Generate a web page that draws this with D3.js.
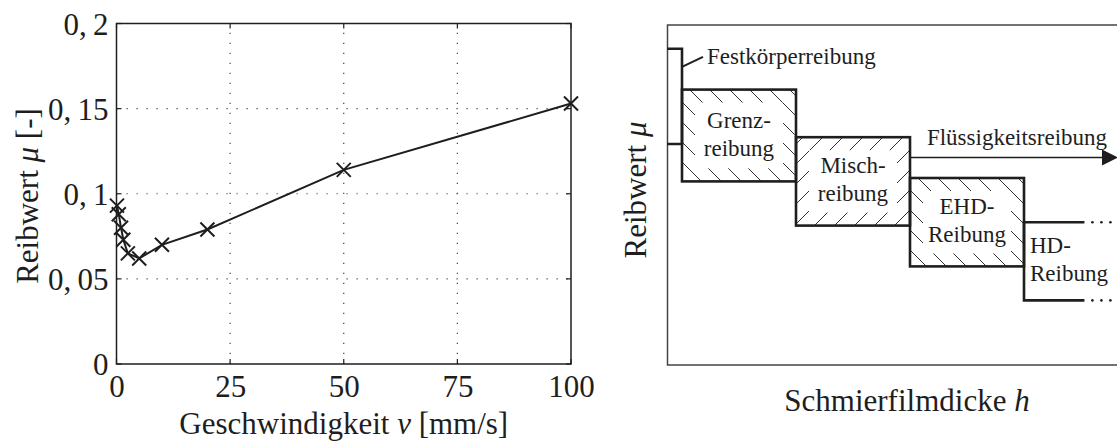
<!DOCTYPE html>
<html lang="de">
<head>
    <meta charset="UTF-8">
    <title>Reibwert</title>
    <style>
        body {
            margin: 0;
            padding: 0;
            overflow: hidden;
            background-color: #ffffff;
        }

        svg {
            display: block;
        }

        text {
            font-family: "Liberation Serif", "DejaVu Serif", serif;
            fill: #1e1e1e;
        }
    </style>
</head>
<body>
    <script src="https://d3js.org/d3.v7.min.js"></script>
    <script>
        // left plot: measured friction coefficient over speed
        const velocity = [0.1, 0.5, 1, 1.5, 2.5, 5, 10, 20, 50, 100];
        const frictionMu = [0.093, 0.088, 0.080, 0.073, 0.065, 0.062, 0.070, 0.079, 0.114, 0.153];
        const xTicks = [0, 25, 50, 75, 100];
        const yTicks = [0, 0.05, 0.1, 0.15, 0.2];

        // right plot: Stribeck-like regimes (schematic units)
        const regimeNames = ['Festkörperreibung', 'Grenz-|reibung', 'Misch-|reibung', 'EHD-|Reibung', 'HD-|Reibung'];
        const regimeStart = [-0.13, 0, 1, 2, 3];
        const regimeEnd = [0, 1, 2, 3, 3.53];
        const regimeTop = [0.93, 0.81, 0.67, 0.55, 0.42];
        const regimeBottom = [0.65, 0.54, 0.41, 0.29, 0.19];
        const regimeHatch = ['none', 'back', 'fwd', 'back', 'none'];
        const fluidLevel = 0.61;

        const width = 1117;
        const height = 441;
        const ink = '#1e1e1e';
        const bigFont = '31px';
        const smallFont = '23px';

        const svg = d3.select('body')
            .append('svg')
            .attr('width', width)
            .attr('height', height);

        const defs = svg.append('defs');

        // hatch patterns
        defs.append('pattern')
            .attr('id', 'hatch-back')
            .attr('patternUnits', 'userSpaceOnUse')
            .attr('width', 20)
            .attr('height', 20)
            .append('path')
            .attr('d', 'M-5,-5 L25,25 M-5,15 L5,25 M15,-5 L25,5')
            .attr('stroke', '#333')
            .attr('stroke-width', 1);

        defs.append('pattern')
            .attr('id', 'hatch-fwd')
            .attr('patternUnits', 'userSpaceOnUse')
            .attr('width', 20)
            .attr('height', 20)
            .append('path')
            .attr('d', 'M-5,25 L25,-5 M-5,5 L5,-5 M15,25 L25,15')
            .attr('stroke', '#333')
            .attr('stroke-width', 1);

        // ---------- left chart ----------
        const x = d3.scaleLinear().domain([0, 100]).range([116.5, 571]);
        const y = d3.scaleLinear().domain([0, 0.2]).range([364, 23.5]);

        const left = svg.append('g');

        // dotted grid
        left.selectAll('.gx')
            .data(xTicks.slice(1, -1))
            .enter()
            .append('line')
            .attr('x1', d => x(d))
            .attr('x2', d => x(d))
            .attr('y1', y(0))
            .attr('y2', y(0.2))
            .attr('stroke', '#444')
            .attr('stroke-width', 1.2)
            .attr('stroke-dasharray', '1.2,8.8');

        left.selectAll('.gy')
            .data(yTicks.slice(1, -1))
            .enter()
            .append('line')
            .attr('x1', x(0))
            .attr('x2', x(100))
            .attr('y1', d => y(d))
            .attr('y2', d => y(d))
            .attr('stroke', '#444')
            .attr('stroke-width', 1.2)
            .attr('stroke-dasharray', '1.2,8.8');

        // inner ticks on all four sides
        const tickLen = 5;
        xTicks.forEach(d => {
            left.append('line').attr('x1', x(d)).attr('x2', x(d)).attr('y1', y(0)).attr('y2', y(0) - tickLen).attr('stroke', ink).attr('stroke-width', 1.2);
            left.append('line').attr('x1', x(d)).attr('x2', x(d)).attr('y1', y(0.2)).attr('y2', y(0.2) + tickLen).attr('stroke', ink).attr('stroke-width', 1.2);
        });
        yTicks.forEach(d => {
            left.append('line').attr('x1', x(0)).attr('x2', x(0) + tickLen).attr('y1', y(d)).attr('y2', y(d)).attr('stroke', ink).attr('stroke-width', 1.2);
            left.append('line').attr('x1', x(100)).attr('x2', x(100) - tickLen).attr('y1', y(d)).attr('y2', y(d)).attr('stroke', ink).attr('stroke-width', 1.2);
        });

        // box
        left.append('rect')
            .attr('x', x(0))
            .attr('y', y(0.2))
            .attr('width', x(100) - x(0))
            .attr('height', y(0) - y(0.2))
            .attr('fill', 'none')
            .attr('stroke', ink)
            .attr('stroke-width', 1.5);

        // axes labels via d3 axes
        const fmt = d => d === 0 ? '0' : String(d).replace('.', ',\u2009');

        const xAxis = left.append('g')
            .attr('transform', `translate(0,${y(0)})`)
            .call(d3.axisBottom(x).tickValues(xTicks).tickSize(0).tickFormat(d => d));
        xAxis.select('.domain').remove();
        xAxis.selectAll('text')
            .attr('y', 33)
            .attr('dy', 0)
            .style('font-size', bigFont)
            .style('font-family', '"Liberation Serif", serif')
            .attr('fill', ink);

        const yAxis = left.append('g')
            .attr('transform', `translate(${x(0)},0)`)
            .call(d3.axisLeft(y).tickValues(yTicks).tickSize(0).tickFormat(fmt));
        yAxis.select('.domain').remove();
        yAxis.selectAll('text')
            .attr('x', -8)
            .attr('dy', '0.34em')
            .style('font-size', bigFont)
            .style('font-family', '"Liberation Serif", serif')
            .attr('fill', ink);

        // series
        const pts = velocity.map((v, i) => [v, frictionMu[i]]);
        left.append('path')
            .datum(pts)
            .attr('d', d3.line().x(d => x(d[0])).y(d => y(d[1])))
            .attr('fill', 'none')
            .attr('stroke', ink)
            .attr('stroke-width', 2);

        const m = 7;
        left.selectAll('.mark')
            .data(pts)
            .enter()
            .append('path')
            .attr('d', d => {
                const cx = x(d[0]), cy = y(d[1]);
                return `M${cx - m},${cy - m}L${cx + m},${cy + m}M${cx - m},${cy + m}L${cx + m},${cy - m}`;
            })
            .attr('stroke', ink)
            .attr('stroke-width', 2)
            .attr('fill', 'none');

        // titles
        const xt = left.append('text')
            .attr('x', (x(0) + x(100)) / 2)
            .attr('y', 434)
            .attr('text-anchor', 'middle')
            .style('font-size', bigFont);
        xt.append('tspan').text('Geschwindigkeit ');
        xt.append('tspan').attr('font-style', 'italic').text('v');
        xt.append('tspan').text(' [mm/s]');

        const yt = left.append('text')
            .attr('transform', `translate(38,196) rotate(-90)`)
            .attr('text-anchor', 'middle')
            .style('font-size', bigFont);
        yt.append('tspan').text('Reibwert ');
        yt.append('tspan').attr('font-style', 'italic').text('μ');
        yt.append('tspan').text(' [-]');

        // ---------- right diagram ----------
        const hx = d3.scaleLinear().domain([0, 4]).range([682, 1138]);
        const my = d3.scaleLinear().domain([0, 1]).range([365, 25]);

        const right = svg.append('g');

        right.append('rect')
            .attr('x', 667.5)
            .attr('y', my(1))
            .attr('width', 480)
            .attr('height', my(0) - my(1))
            .attr('fill', 'none')
            .attr('stroke', '#444')
            .attr('stroke-width', 1.5);

        const boxStroke = 2.6;
        const inset = 13;

        // hatched boxes (Grenz, Misch, EHD)
        [1, 2, 3].forEach(i => {
            const x0 = hx(regimeStart[i]), x1 = hx(regimeEnd[i]);
            const y0 = my(regimeTop[i]), y1 = my(regimeBottom[i]);
            right.append('rect')
                .attr('x', x0).attr('y', y0)
                .attr('width', x1 - x0).attr('height', y1 - y0)
                .attr('fill', `url(#hatch-${regimeHatch[i]})`);
            right.append('rect')
                .attr('x', x0 + inset).attr('y', y0 + inset)
                .attr('width', x1 - x0 - 2 * inset).attr('height', y1 - y0 - 2 * inset)
                .attr('fill', '#fff');
            right.append('rect')
                .attr('x', x0).attr('y', y0)
                .attr('width', x1 - x0).attr('height', y1 - y0)
                .attr('fill', 'none')
                .attr('stroke', ink)
                .attr('stroke-width', boxStroke);

            const lines = regimeNames[i].split('|');
            const cx = (x0 + x1) / 2, cy = (y0 + y1) / 2;
            right.selectAll(null)
                .data(lines)
                .enter()
                .append('text')
                .attr('x', cx)
                .attr('y', (d, k) => cy - 8 + k * 28)
                .attr('text-anchor', 'middle')
                .style('font-size', smallFont)
                .text(d => d);
        });

        // Festkörper step (uses frame as left side)
        const f0 = hx(regimeStart[0]), f1 = hx(regimeEnd[0]);
        right.append('path')
            .attr('d', `M${f0},${my(regimeTop[0])}H${f1}V${my(regimeBottom[0])}H${f0}`)
            .attr('fill', 'none')
            .attr('stroke', ink)
            .attr('stroke-width', boxStroke);

        right.append('line')
            .attr('x1', f1).attr('y1', my(regimeTop[0]) + 18)
            .attr('x2', f1 + 21).attr('y2', my(regimeTop[0]) + 8)
            .attr('stroke', ink)
            .attr('stroke-width', 2);

        right.append('text')
            .attr('x', f1 + 25)
            .attr('y', my(regimeTop[0]) + 15)
            .style('font-size', smallFont)
            .text(regimeNames[0]);

        // HD open box with dotted continuation
        const h0 = hx(regimeStart[4]), h1 = hx(regimeEnd[4]);
        right.append('path')
            .attr('d', `M${h1},${my(regimeTop[4])}H${h0}V${my(regimeBottom[4])}H${h1}`)
            .attr('fill', 'none')
            .attr('stroke', ink)
            .attr('stroke-width', boxStroke);

        [regimeTop[4], regimeBottom[4]].forEach(v => {
            right.selectAll(null)
                .data([0, 1, 2])
                .enter()
                .append('circle')
                .attr('cx', k => h1 + 8 + k * 9)
                .attr('cy', my(v))
                .attr('r', 1.3)
                .attr('fill', ink);
        });

        const hdLines = regimeNames[4].split('|');
        right.selectAll(null)
            .data(hdLines)
            .enter()
            .append('text')
            .attr('x', h0 + 6)
            .attr('y', (d, k) => my(regimeBottom[4]) - 47 + k * 28)
            .style('font-size', smallFont)
            .text(d => d);

        // Flüssigkeitsreibung arrow
        const ay = my(fluidLevel);
        right.append('line')
            .attr('x1', hx(2)).attr('x2', 1104)
            .attr('y1', ay).attr('y2', ay)
            .attr('stroke', ink)
            .attr('stroke-width', 1.5);
        right.append('path')
            .attr('d', `M1102,${ay - 8}L1118,${ay}L1102,${ay + 8}Z`)
            .attr('fill', ink);
        right.append('text')
            .attr('x', 1017)
            .attr('y', ay - 13)
            .attr('text-anchor', 'middle')
            .style('font-size', smallFont)
            .text('Flüssigkeitsreibung');

        // titles
        const rt = right.append('text')
            .attr('x', 907)
            .attr('y', 411)
            .attr('text-anchor', 'middle')
            .style('font-size', bigFont);
        rt.append('tspan').text('Schmierfilmdicke ');
        rt.append('tspan').attr('font-style', 'italic').text('h');

        const ry = right.append('text')
            .attr('transform', `translate(646,190) rotate(-90)`)
            .attr('text-anchor', 'middle')
            .style('font-size', bigFont);
        ry.append('tspan').text('Reibwert ');
        ry.append('tspan').attr('font-style', 'italic').text('μ');
    </script>
</body>
</html>
